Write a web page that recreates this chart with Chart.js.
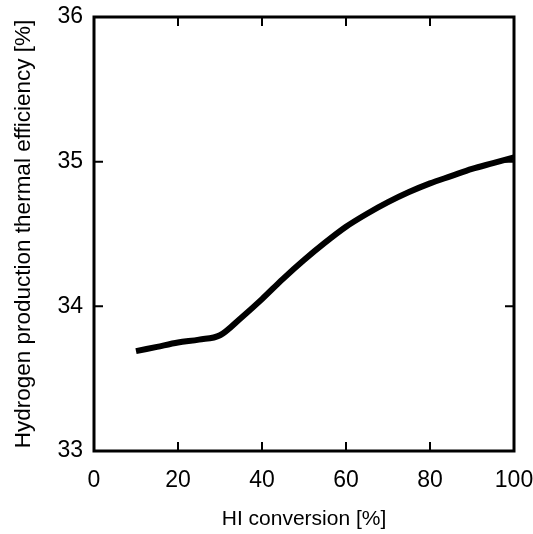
<!DOCTYPE html>
<html>
<head>
<meta charset="utf-8">
<script src="https://cdn.jsdelivr.net/npm/chart.js@4/dist/chart.umd.min.js"></script>
<style>
  body { margin: 0; background: #fff; }
  canvas { display: block; }
</style>
</head>
<body>
<canvas id="summary" width="533" height="534"></canvas>
<script>
// HI conversion [%]
const conversion = [10, 15, 20, 25, 30, 35, 40, 45, 50, 55, 60, 65, 70, 75, 80, 85, 90, 95, 100]
// thermal efficiency [%]
const efficiency = [33.69, 33.72, 33.75, 33.77, 33.80, 33.92, 34.05, 34.19, 34.32, 34.44, 34.55, 34.64, 34.72, 34.79, 34.85, 34.90, 34.95, 34.99, 35.03]
const xTicks = [0, 20, 40, 60, 80, 100]
const yTicks = [33, 34, 35, 36]

const font = 'Liberation Sans, Arial, sans-serif'

// frame + inward ticks on all four sides
const frame = {
  id: 'frame',
  afterDraw(chart){
    const {ctx, chartArea: a, scales} = chart
    ctx.save()
    ctx.strokeStyle = '#000'
    ctx.lineWidth = 3
    ctx.strokeRect(a.left, a.top, a.right - a.left, a.bottom - a.top)
    ctx.lineWidth = 2
    ctx.beginPath()
    xTicks.slice(1, -1).forEach(v => {
      let px = scales.x.getPixelForValue(v)
      ctx.moveTo(px, a.bottom); ctx.lineTo(px, a.bottom - 9)
      ctx.moveTo(px, a.top); ctx.lineTo(px, a.top + 9)
    })
    yTicks.slice(1, -1).forEach(v => {
      let py = scales.y.getPixelForValue(v)
      ctx.moveTo(a.left, py); ctx.lineTo(a.left + 9, py)
      ctx.moveTo(a.right, py); ctx.lineTo(a.right - 9, py)
    })
    ctx.stroke()
    ctx.restore()
  }
}

let lineChart = new Chart(document.getElementById('summary'), {
  type: 'line',
  data: {
    labels: conversion,
    datasets: [{
      data: conversion.map((c, i) => ({x: c, y: efficiency[i]})),
      borderColor: '#000',
      borderWidth: 6,
      pointRadius: 0,
      cubicInterpolationMode: 'monotone',
      fill: false
    }]
  },
  options: {
    responsive: false,
    animation: false,
    layout: { padding: { top: 17, right: 19, left: 0, bottom: 0 } },
    plugins: { legend: { display: false }, tooltip: { enabled: false } },
    scales: {
      x: {
        type: 'linear', min: 0, max: 100,
        afterBuildTicks: s => { s.ticks = xTicks.map(v => ({value: v})) },
        afterFit: s => { s.height = 83; s.paddingLeft = 0; s.paddingRight = 0 },
        grid: { display: false, drawTicks: false },
        border: { display: false },
        ticks: { color: '#000', padding: 16, font: { family: font, size: 23 } },
        title: { display: true, text: 'HI conversion [%]', color: '#000', padding: { top: 0, bottom: 2 }, font: { family: font, size: 21 } }
      },
      y: {
        min: 33, max: 36,
        afterBuildTicks: s => { s.ticks = yTicks.map(v => ({value: v})) },
        afterFit: s => { s.width = 94; s.paddingTop = 0; s.paddingBottom = 0 },
        grid: { display: false, drawTicks: false },
        border: { display: false },
        ticks: { color: '#000', padding: 11, font: { family: font, size: 23 } },
        title: { display: true, text: 'Hydrogen production thermal efficiency [%]', color: '#000', padding: { top: 10, bottom: 0 }, font: { family: font, size: 22.5 } }
      }
    }
  },
  plugins: [frame]
})
</script>
</body>
</html>
